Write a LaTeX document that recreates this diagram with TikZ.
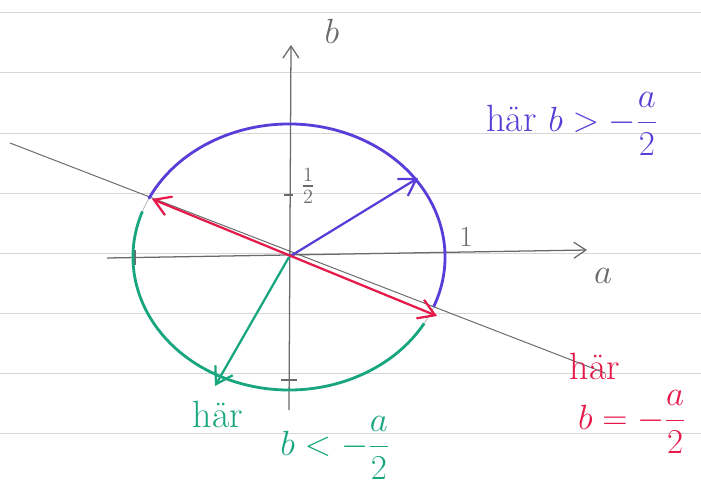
\documentclass[tikz,border=0pt]{standalone}
\usepackage{xcolor}
\usepackage{amsmath}
\usepackage{tikz}
\usetikzlibrary{positioning, arrows.meta, calc}
\definecolor{penblue}{HTML}{5A3CD8}
\definecolor{penred}{HTML}{E6194B}
\definecolor{pengreen}{HTML}{17A67E}
\definecolor{pencil}{HTML}{6A6A6A}
\definecolor{ruling}{HTML}{D6D6D6}

\begin{document}
\begin{tikzpicture}[
    x=0.025cm, y=0.025cm,
    axis/.style={-{Straight Barb[length=3mm, width=4mm]}, pencil, line width=0.9pt},
    pencilline/.style={pencil, line width=0.7pt},
    vec/.style={-{Straight Barb[length=4mm, width=5mm]}, line width=1.6pt},
    dvec/.style={{Straight Barb[length=4mm, width=5mm]}-{Straight Barb[length=4mm, width=5mm]}, line width=1.6pt},
    arcline/.style={line width=2pt},
    tickmark/.style={pencil, line width=0.8pt},
    hand/.style={font=\fontsize{27}{31}\selectfont, inner sep=1pt},
    ticklabel/.style={font=\fontsize{20}{22}\selectfont, text=pencil, inner sep=1pt}
]
\useasboundingbox (0,0) rectangle (701,486);

% Ruled paper
\foreach \y in {474,414,353,293,233,173,113,53}
  \draw[ruling, line width=0.5pt] (0,\y) -- (701,\y);

% Points
\coordinate (O) at (289,229);
\coordinate (aL) at (107,228);
\coordinate (aR) at (587,236);
\coordinate (bB) at (289,76);
\coordinate (bT) at (291,441);
\coordinate (lL) at (10,343);
\coordinate (lR) at (605,113);
\coordinate (pos) at (418,308);
\coordinate (redL) at (152,287);
\coordinate (redR) at (437,170);
\coordinate (neg) at (215,100);

% Pencil circle and line b = -a/2
\draw[pencil!45, line width=0.6pt] (O) ellipse [x radius=156, y radius=133];
\draw[pencilline] (lL) -- (lR);

% Axes
\draw[axis] (aL) -- (aR);
\draw[axis] (bB) -- (bT);
\draw[tickmark] (284,291) -- (293,291);
\draw[tickmark] (281,106) -- (297,106);
\draw[tickmark] (135,221) -- (135,236);

% Coloured arcs
\draw[penblue, arcline] (O) ++(154:156 and 133) arc[start angle=154, end angle=-22, x radius=156, y radius=133];
\draw[pengreen, arcline] (O) ++(160:156 and 133) arc[start angle=160, end angle=330, x radius=156, y radius=133];

% Vectors
\draw[penblue, vec] (O) -- (pos);
\draw[penred, dvec] (redL) -- (redR);
\draw[pengreen, vec] (O) -- (neg);

% Labels
\node[ticklabel] (half) at (308,300) {$\frac{1}{2}$};
\node[ticklabel] (one) at (466,249) {$1$};
\node[hand, text=pencil] (blab) at (332,455) {$b$};
\node[hand, text=pencil] (alab) at (603,210) {$a$};
\node[hand, text=penblue] (above) at (572,362) {här $b>-\dfrac{a}{2}$};
\node[hand, text=penred] (onhar) at (595,120) {här};
\node[hand, text=penred] (on) at (632,64) {$b=-\dfrac{a}{2}$};
\node[hand, text=pengreen] (belowhar) at (218,72) {här};
\node[hand, text=pengreen] (below) at (335,38) {$b<-\dfrac{a}{2}$};

\end{tikzpicture}
\end{document}
